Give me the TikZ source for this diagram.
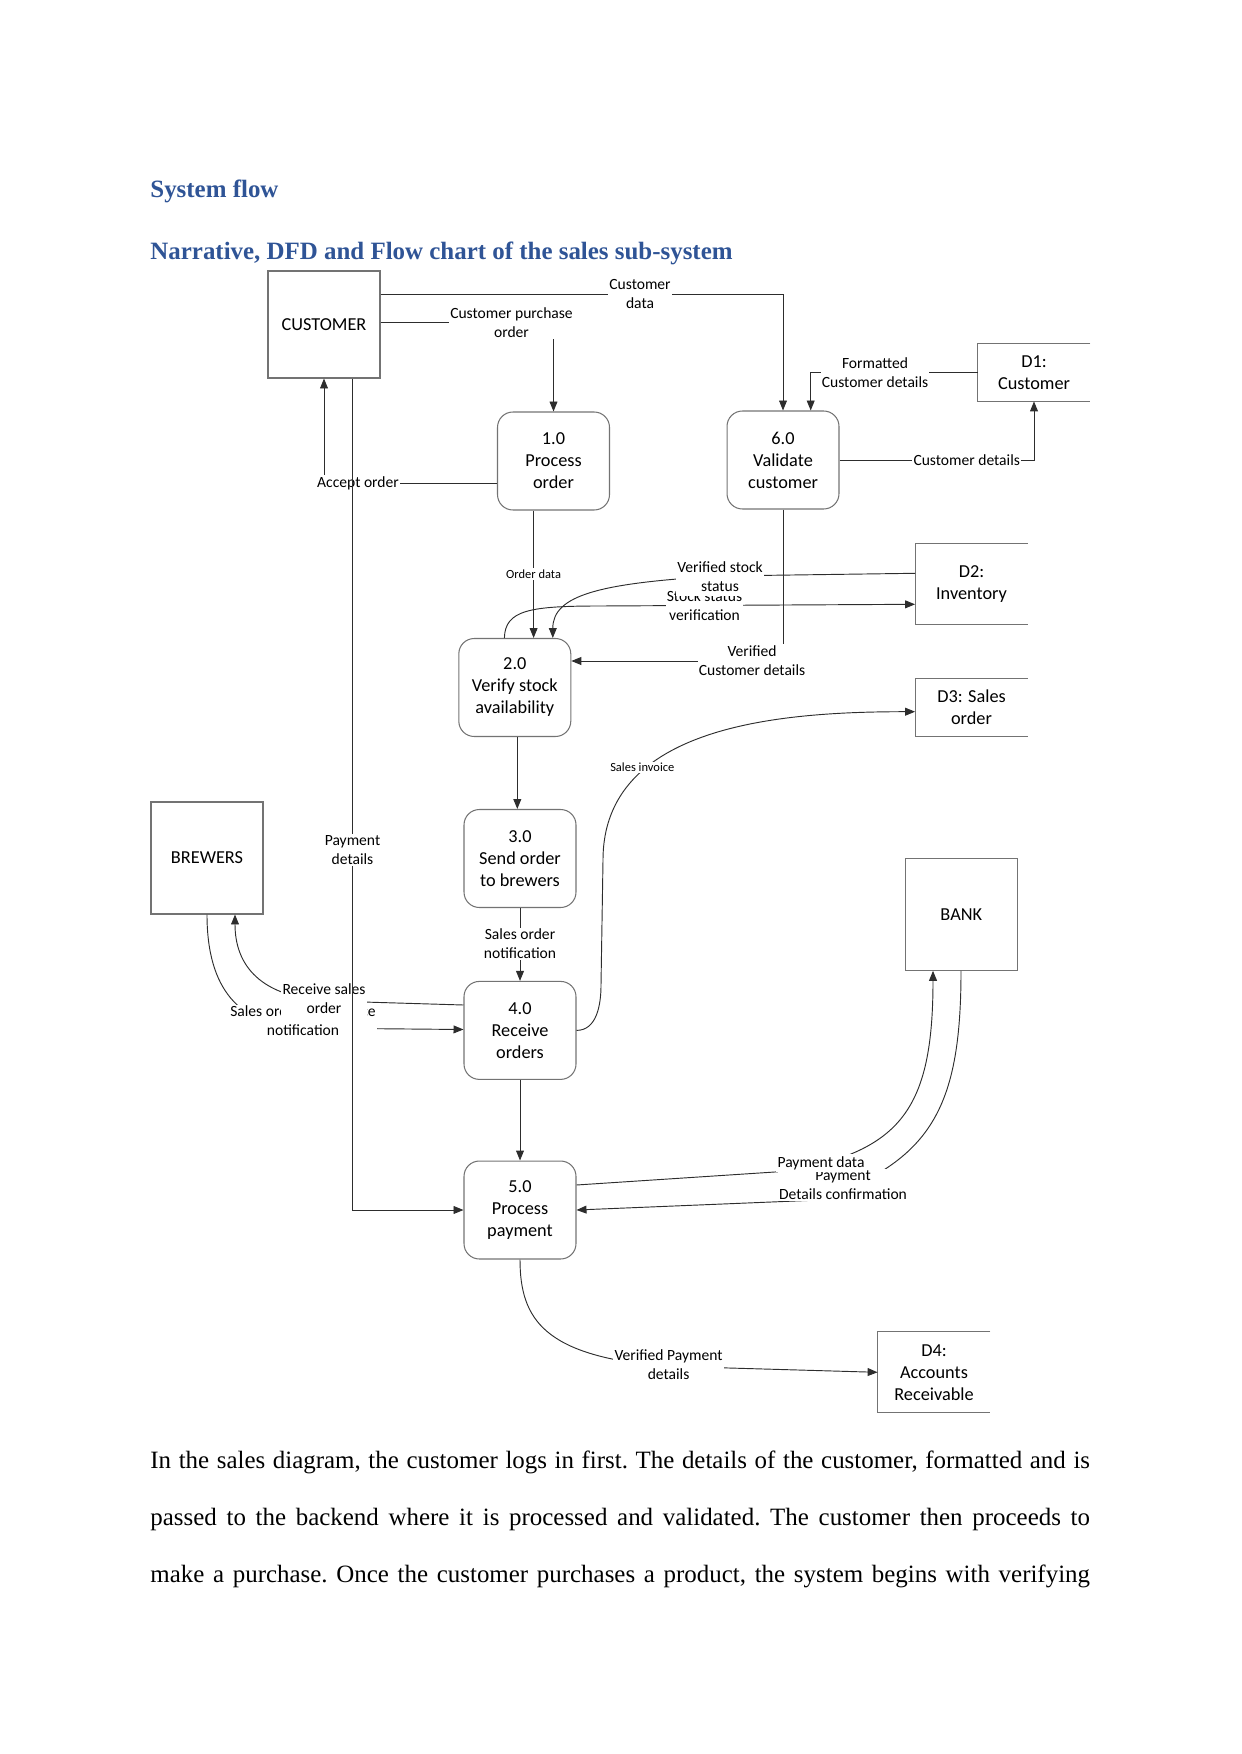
\documentclass[tikz,border=0pt]{standalone}
\usepackage{fontspec}
\setmainfont{Liberation Serif}
\newfontfamily\diaFont{Carlito}
\usetikzlibrary{arrows.meta}
\definecolor{headColor}{RGB}{47, 84, 150}
\definecolor{lineColor}{RGB}{45, 45, 45}
\definecolor{boxColor}{RGB}{115, 115, 115}

\tikzset{
  procBox/.style={draw=boxColor, line width=0.5pt, rounded corners=0.26cm, minimum width=1.895cm, minimum height=1.658cm, inner sep=0pt, align=center, font=\diaFont\fontsize{8.8}{10.6}\selectfont},
  entityBox/.style={draw=boxColor, line width=0.5pt, minimum width=1.895cm, minimum height=1.895cm, inner sep=0pt, align=center, font=\diaFont\fontsize{8.8}{10.6}\selectfont},
  storeBox/.style={minimum width=1.895cm, inner sep=0pt, align=center, font=\diaFont\fontsize{8.8}{10.6}\selectfont},
  boxLine/.style={draw=boxColor, line width=0.5pt},
  flowLine/.style={draw=lineColor, line width=0.45pt, -{Triangle[length=4.8pt, width=3.8pt]}},
  flowLabel/.style={fill=white, inner sep=0.6pt, align=center, font=\diaFont\fontsize{7.5}{9.2}\selectfont},
  smallLabel/.style={flowLabel, font=\diaFont\fontsize{6}{7}\selectfont}
}

\begin{document}
\begin{tikzpicture}[x=0.016922cm, y=0.016922cm]
\useasboundingbox (0,0) rectangle (1241,-1754);

% headings
\node[anchor=base west, inner sep=0pt, text=headColor, font=\fontsize{12}{14}\selectfont\bfseries] (title) at (150,-197.5) {System flow};
\node[anchor=base west, inner sep=0pt, text=headColor, font=\fontsize{12}{14}\selectfont\bfseries] (subtitle) at (150,-259.5) {Narrative, DFD and Flow chart of the sales sub-system};

% external entities
\node[entityBox, minimum height=1.811cm] (cust) at (324,-324.5) {CUSTOMER};
\node[entityBox] (brew) at (207,-858) {BREWERS};
\node[entityBox] (bank) at (961.3,-914.3) {BANK};

% processes
\node[procBox] (p1) at (553.5,-461) {1.0\\Process\\order};
\node[procBox] (p6) at (783,-460) {6.0\\Validate\\customer};
\node[procBox] (p2) at (514.8,-687.5) {2.0\\Verify stock\\availability};
\node[procBox] (p3) at (520,-858.5) {3.0\\Send order\\to brewers};
\node[procBox] (p4) at (520,-1030.4) {4.0\\Receive\\orders};
\node[procBox] (p5) at (520,-1210) {5.0\\Process\\payment};

% data stores (open on the right)
\node[storeBox, minimum height=0.965cm] (d1) at (1034,-372.5) {D1:\\Customer};
\node[storeBox, minimum height=1.354cm] (d2) at (971.5,-584.3) {D2:\\Inventory};
\node[storeBox, minimum height=0.965cm] (d3) at (971.5,-707.6) {D3: Sales\\order};
\node[storeBox, minimum height=1.354cm] (d4) at (934,-1372.3) {D4:\\Accounts\\Receivable};
\foreach \s in {d1,d2,d3,d4}
  \draw[boxLine] (\s.north east) -- (\s.north west) -- (\s.south west) -- (\s.south east);

% data flows
\draw[flowLine] (cust.east |- 0,-294) -| (p6.north);
\draw[flowLine] (cust.east |- 0,-322) -| (p1.north);
\draw[flowLine] (p1.west |- 0,-483) -| (cust.south);
\draw[flowLine] (d1.west) -| (p6.north -| 810.7,0);
\draw[flowLine] (p6.east) -| (d1.south);
\draw[flowLine] (p1.south -| 533.6,0) -- (p2.north -| 533.6,0);
\draw[flowLine] (d2.west |- 0,-573.3) -- (720,-576) .. controls (600,-583) and (552.8,-595) .. (p2.north -| 552.8,0);
\draw[flowLine] (p2.north -| 504.4,0) .. controls (505,-610) and (530,-606) .. (600,-606) -- (d2.west |- 0,-604.3);
\draw[flowLine] (p6.south) |- (p2.east |- 0,-661);
\draw[flowLine] (p2.south -| 517.3,0) -- (p3.north -| 517.3,0);
\draw[flowLine] (p3.south) -- (p4.north);
\draw[flowLine] (p4.east) to[out=0, in=-90] (601,-985) -- (603,-860) to[out=90, in=180] (d3.west |- 0,-711.7);
\draw[flowLine] (p4.west |- 0,-1005) -- (330,-1001) .. controls (260,-998) and (235,-965) .. (brew.south -| 235,0);
\draw[flowLine] (brew.south) .. controls (207,-990) and (240,-1025) .. (300,-1028) -- (p4.west |- 0,-1029.5);
\draw[flowLine] (p4.south) -- (p5.north);
\draw[flowLine] (p5.east |- 0,-1185) -- (790,-1171) .. controls (900,-1150) and (933,-1110) .. (bank.south -| 933,0);
\draw[flowLine] (bank.south -| 961,0) .. controls (961,-1110) and (930,-1160) .. (820,-1200) -- (p5.east);
\draw[flowLine] (p5.south) .. controls (520,-1320) and (545,-1355) .. (660,-1366) -- (d4.west);

% flow labels
\node[flowLabel] (lCustData) at (640,-294) {Customer\\data};
\node[flowLabel] (lPurchase) at (511.5,-322.5) {Customer purchase\\order};
\node[flowLabel] (lAccept) at (358,-483) {Accept order};
\node[flowLabel] (lFormat) at (875,-372.8) {Formatted\\Customer details};
\node[flowLabel] (lCustDet) at (966.7,-460) {Customer details};
\node[smallLabel] (lOrder) at (533.6,-574) {Order data};
\node[flowLabel] (lStockVer) at (704.5,-606) {Stock status\\verification};
\node[flowLabel, inner ysep=1.8pt] (lVerStock) at (720,-577) {Verified stock\\status};
\node[flowLabel] (lVerCust) at (752,-660.5) {Verified\\Customer details};
\node[smallLabel] (lInvoice) at (642.3,-767.7) {Sales invoice};
\node[flowLabel] (lSalesNote) at (520,-944) {Sales order\\notification};
\node[flowLabel] (lAccNote) at (303,-1021) {Sales order acceptance\\notification};
\node[flowLabel, inner ysep=3pt] (lRecv) at (324,-999) {Receive sales\\order};
\node[flowLabel] (lPayConf) at (843,-1185) {Payment\\Details confirmation};
\node[flowLabel, inner ysep=1.2pt] (lPayData) at (821,-1163.3) {Payment data};
\node[flowLabel] (lVerPay) at (668.6,-1365) {Verified Payment\\details};

% payment line runs over the other labels
\draw[flowLine] (cust.south -| 352.5,0) |- (p5.west);
\node[flowLabel] (lPayDet) at (352.5,-850) {Payment\\details};

% narrative
\node[anchor=base west, inner sep=0pt, text width=15.9cm, align=justify, font=\fontsize{12}{27.6}\selectfont\frenchspacing] (body) at (150,-1468) {In the sales diagram, the customer logs in first. The details of the customer, formatted and is\linebreak passed to the backend where it is processed and validated. The customer then proceeds to\linebreak make a purchase. Once the customer purchases a product, the system begins with verifying\parfillskip=0pt\par};
\end{tikzpicture}
\end{document}
